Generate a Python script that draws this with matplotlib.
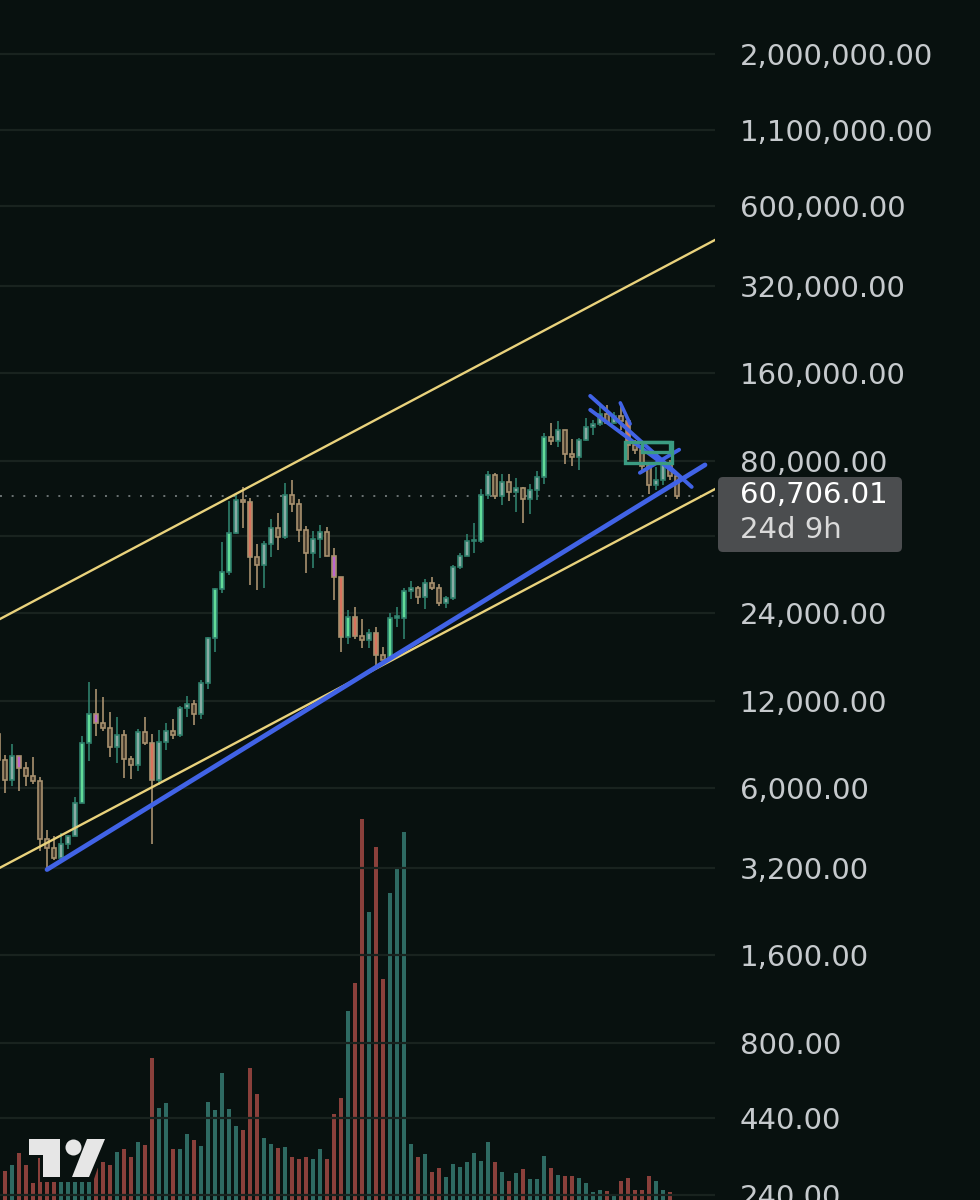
import numpy as np
import matplotlib
matplotlib.use("Agg")
import matplotlib.pyplot as plt
from matplotlib.patches import Polygon, Circle, FancyBboxPatch, Rectangle
from matplotlib.ticker import FixedLocator, FixedFormatter, NullLocator
from matplotlib.transforms import IdentityTransform

# monthly candles, May 2018 .. Jun 2026
months = ["2018-05", "2018-06", "2018-07", "2018-08", "2018-09", "2018-10", "2018-11", "2018-12",
          "2019-01", "2019-02", "2019-03", "2019-04", "2019-05", "2019-06", "2019-07", "2019-08",
          "2019-09", "2019-10", "2019-11", "2019-12", "2020-01", "2020-02", "2020-03", "2020-04",
          "2020-05", "2020-06", "2020-07", "2020-08", "2020-09", "2020-10", "2020-11", "2020-12",
          "2021-01", "2021-02", "2021-03", "2021-04", "2021-05", "2021-06", "2021-07", "2021-08",
          "2021-09", "2021-10", "2021-11", "2021-12", "2022-01", "2022-02", "2022-03", "2022-04",
          "2022-05", "2022-06", "2022-07", "2022-08", "2022-09", "2022-10", "2022-11", "2022-12",
          "2023-01", "2023-02", "2023-03", "2023-04", "2023-05", "2023-06", "2023-07", "2023-08",
          "2023-09", "2023-10", "2023-11", "2023-12", "2024-01", "2024-02", "2024-03", "2024-04",
          "2024-05", "2024-06", "2024-07", "2024-08", "2024-09", "2024-10", "2024-11", "2024-12",
          "2025-01", "2025-02", "2025-03", "2025-04", "2025-05", "2025-06", "2025-07", "2025-08",
          "2025-09", "2025-10", "2025-11", "2025-12", "2026-01", "2026-02", "2026-03", "2026-04",
          "2026-05", "2026-06"]

opens = [9240, 7500, 6400, 7730, 7030, 6630, 6370, 4017, 3742, 3457, 3854, 4105, 5350, 8574, 10817, 10085,
         9630, 8290, 9150, 7550, 7200, 9350, 8550, 6420, 8630, 9450, 9140, 11350, 11650, 10780, 13800, 19700,
         28990, 33100, 45140, 58740, 57700, 37300, 35040, 41460, 47100, 43800, 61300, 57000, 46200, 38480, 43180, 45500,
         37700, 31800, 19900, 23300, 20050, 19420, 20500, 17160, 16540, 23130, 23150, 28480, 29250, 27220, 30480, 29230,
         25940, 26970, 34660, 37720, 42280, 42580, 61130, 71330, 60670, 67530, 62750, 64630, 58980, 63330, 70220, 96400,
         93430, 102400, 84350, 82550, 94200, 104600, 107100, 115760, 108250, 114050, 109600, 90400, 87500, 77000, 66000, 69000,
         78000, 71000]
highs = [9990, 7770, 8500, 7750, 7400, 7680, 6540, 4300, 4100, 4200, 4150, 5600, 9100, 13880, 13200, 12300,
         10950, 10500, 9500, 7750, 9600, 10500, 9200, 9470, 10070, 10400, 11450, 12480, 12050, 14100, 19900, 29300,
         41950, 58350, 61780, 64860, 59500, 41300, 42400, 50500, 52900, 67000, 69000, 59100, 47900, 45800, 48200, 47400,
         40000, 31900, 24650, 25200, 22800, 21080, 21480, 18400, 23950, 25250, 29200, 31000, 29800, 31400, 31800, 30200,
         27500, 35000, 38450, 44700, 48970, 64000, 73800, 72750, 71950, 72000, 70000, 65100, 66500, 73600, 99800, 108300,
         109600, 102500, 95000, 95800, 111900, 110500, 123200, 124500, 117900, 126200, 111000, 94500, 91000, 79500, 76000, 79500,
         80500, 72000]
lows = [7030, 5780, 6100, 5880, 6100, 6200, 3650, 3150, 3400, 3400, 3700, 4100, 5350, 7450, 9100, 9400,
        7700, 7300, 6500, 6430, 6850, 8450, 3850, 6150, 8100, 8850, 8980, 10550, 9880, 10380, 13200, 17600,
        28130, 32300, 45000, 47000, 30000, 28800, 29300, 37300, 39600, 43200, 53300, 42000, 32900, 34300, 37200, 37600,
        26700, 17600, 18800, 19600, 18150, 18200, 15480, 16250, 16500, 21400, 19550, 26900, 25800, 24800, 28900, 25300,
        24900, 26550, 34100, 37600, 38500, 41880, 59000, 59200, 56550, 58400, 53500, 49000, 52550, 58900, 66800, 90500,
        89200, 78200, 76600, 74500, 93400, 98200, 105100, 107300, 107300, 102000, 80600, 84400, 74500, 61500, 63500, 66000,
        69000, 59000]
closes = [7500, 6400, 7730, 7030, 6630, 6370, 4017, 3742, 3457, 3854, 4105, 5350, 8574, 10817, 10085, 9630,
          8290, 9150, 7550, 7200, 9350, 8550, 6420, 8630, 9450, 9140, 11350, 11650, 10780, 13800, 19700, 28990,
          33100, 45140, 58740, 57700, 37300, 35040, 41460, 47100, 43800, 61300, 57000, 46200, 38480, 43180, 45500, 37700,
          31800, 19900, 23300, 20050, 19420, 20500, 17160, 16540, 23130, 23150, 28480, 29250, 27220, 30480, 29230, 25940,
          26970, 34660, 37720, 42280, 42580, 61130, 71330, 60670, 67530, 62750, 64630, 58980, 63330, 70220, 96400, 93430,
          102400, 84350, 82550, 94200, 104600, 107100, 115760, 108250, 114050, 109600, 90400, 87500, 77000, 66000, 69000, 78000,
          71000, 60706.01]
# body tint: G bright green, T grey-teal, B dark brown, R salmon, P pink
tints = list("BBTPBBBBBTTTGGPBBTBBTBRTTBTTBTTGGGTBRBTTBTBBBTTBPRGRBTRBGTGTBTBBTTTTTGTBTBTBTTGBTBBTTTTBTBRBBBTTBB")
# volume, arbitrary units (bar height)
volumes = [40, 41, 47, 59, 47, 29, 54, 52, 44, 46, 49, 62, 72, 77, 44, 50,
           47, 60, 63, 55, 70, 67, 154, 104, 109, 63, 63, 78, 72, 66, 110, 102,
           139, 103, 86, 82, 144, 118, 74, 68, 64, 65, 55, 53, 55, 53, 63, 53,
           98, 114, 201, 229, 393, 300, 365, 233, 319, 345, 380, 68, 55, 58, 40, 44,
           35, 48, 45, 50, 59, 51, 70, 50, 40, 31, 39, 43, 33, 33, 56, 44,
           37, 36, 36, 34, 29, 20, 22, 21, 18, 31, 34, 22, 22, 36, 31, 22,
           20, 6]

y_ticks = [2000000, 1100000, 600000, 320000, 160000, 80000, 44000, 24000, 12000, 6000, 3200, 1600, 800, 440, 240]
y_labels = ["2,000,000.00", "1,100,000.00", "600,000.00", "320,000.00", "160,000.00", "80,000.00", "",
            "24,000.00", "12,000.00", "6,000.00", "3,200.00", "1,600.00", "800.00", "440.00", "240.00"]
last_price = 60706.01
countdown = "24d 9h"

# drawn trend tools, as (month index, price) anchors
upper_channel = [(0, 22700), (102, 454000)]
lower_channel = [(0, 3170), (102, 63200)]
support_line = [(7, 3150), (101, 77500)]
down_line_a = [(84.6, 133800), (99.1, 65100)]
down_line_b = [(84.6, 119800), (96.9, 72200)]
down_tick = [(88.9, 126600), (90.3, 107200)]
cross_line = [(91.7, 72800), (97.3, 87400)]
box_outer = [(89.6, 92900), (96.3, 78500)]
box_inner = [(92.0, 92900), (96.0, 86000)]

bg = "#08110f"
up_edge, dn_edge = "#2f806c", "#a8916f"
fills = {"G": "#62dc98", "T": "#8aaba4", "B": "#4b3f2f", "R": "#d9735d", "P": "#bd66cf"}
vol_up, vol_dn = "#2e6a62", "#8a403b"
label_col = "#c6cacd"
W, H = 980, 1200

fig = plt.figure(figsize=(9.8, 12), dpi=100, facecolor=bg)
ax2 = fig.add_axes([0, 0, 715 / W, 1])
ax = fig.add_axes([0, 0, 715 / W, 1], sharex=ax2)
ax.patch.set_visible(False)
ax2.set_facecolor(bg)

k = np.arange(len(months))
o, h, l, c = map(np.array, (opens, highs, lows, closes))
up = c >= o

# volume, baseline sits just below the visible area
ax2.bar(k, volumes, width=0.64, color=[vol_up if u else vol_dn for u in up], linewidth=0)
ax2.set_ylim(12, 1212)
ax2.axis("off")

# price axis
ax.set_yscale("log")
ax.set_xlim(2 / 7, 717 / 7)
ax.set_ylim(230.4, 3.071e6)
for s in ax.spines.values():
    s.set_visible(False)
ax.xaxis.set_visible(False)
ax.yaxis.tick_right()
ax.yaxis.set_major_locator(FixedLocator(y_ticks))
ax.yaxis.set_major_formatter(FixedFormatter(y_labels))
ax.yaxis.set_minor_locator(NullLocator())
ax.tick_params(axis="y", length=0, pad=18, labelsize=21, labelcolor=label_col)
ax.grid(True, axis="y", color="#19231f", lw=1.6)

# candles
edges = [up_edge if u else dn_edge for u in up]
ax.vlines(k, l, h, colors=edges, lw=1.2, zorder=3)
lo_b = np.minimum(o, c)
hi_b = np.maximum(o, c)
hi_b = np.maximum(hi_b, lo_b * 1.015)
ax.bar(k, hi_b - lo_b, bottom=lo_b, width=0.7, color=[fills[t] for t in tints],
       edgecolor=edges, linewidth=1.2, zorder=4)

# current price line
ax.axhline(last_price, color="#6c7474", lw=1.4, ls=(0, (1, 5)), zorder=2)

# channel and trend lines
yel = "#e9d27c"
ax.axline(*upper_channel, color=yel, lw=1.7, zorder=5)
ax.axline(*lower_channel, color=yel, lw=1.7, zorder=5)
blue = "#4163e6"
for seg, lw in [(support_line, 3.4), (down_line_a, 2.8), (down_line_b, 2.8),
                (down_tick, 2.6), (cross_line, 2.8)]:
    (x0, y0), (x1, y1) = seg
    ax.plot([x0, x1], [y0, y1], color=blue, lw=lw, solid_capstyle="round", zorder=6)
for (x0, y0), (x1, y1) in [box_outer, box_inner]:
    ax.add_patch(Rectangle((x0, y1), x1 - x0, y0 - y1, fill=False, edgecolor="#3b9c82",
                           lw=2.4, zorder=7))


def px(x, y):
    return (x, H - y)


# last price tag
ident = IdentityTransform()
tag = FancyBboxPatch(px(718, 552), 184, 75, boxstyle="round,pad=0,rounding_size=5",
                     transform=ident, facecolor="#4b4d4f", edgecolor="none", zorder=10)
fig.patches.append(tag)
fig.text(740 / W, 1 - 495 / H, f"{last_price:,.2f}", color="white", fontsize=21,
         va="center", ha="left", zorder=12)
fig.text(740 / W, 1 - 530 / H, countdown, color="#dadada", fontsize=21,
         va="center", ha="left", zorder=12)

# logo
plate = Polygon([px(26, 1135), px(109, 1135), px(93, 1182), px(40, 1182), px(40, 1158), px(26, 1158)],
                closed=True, transform=ident, facecolor=bg, edgecolor="none", zorder=10)
logo_t = Polygon([px(29, 1139), px(60, 1139), px(60, 1177), px(43, 1177), px(43, 1155), px(29, 1155)],
                 closed=True, transform=ident, facecolor="#e6e6e6", edgecolor="none", zorder=11)
logo_dot = Circle(px(73.5, 1147.5), 8, transform=ident, facecolor="#e6e6e6", edgecolor="none", zorder=11)
logo_slash = Polygon([px(72, 1177), px(89, 1177), px(105, 1139), px(87, 1139)],
                     closed=True, transform=ident, facecolor="#e6e6e6", edgecolor="none", zorder=11)
for p in (plate, logo_t, logo_dot, logo_slash):
    fig.patches.append(p)

fig.savefig("out.png", dpi=100, facecolor=bg)
